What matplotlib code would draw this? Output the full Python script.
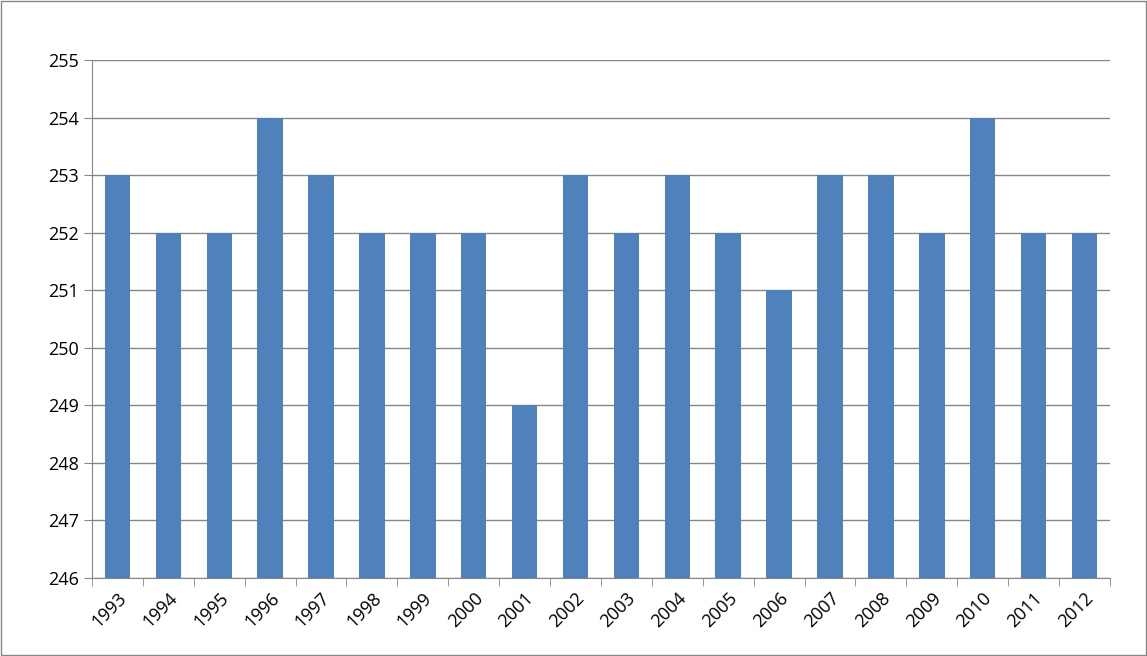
import matplotlib.pyplot as plt
import numpy as np

years = [str(y) for y in range(1993, 2013)]
values = [253, 252, 252, 254, 253, 252, 252, 252, 249, 253,
          252, 253, 252, 251, 253, 253, 252, 254, 252, 252]

plt.rcParams['font.family'] = ['Open Sans', 'DejaVu Sans']

fig = plt.figure(figsize=(11.47, 6.56), dpi=100)
ax = fig.add_axes([0.0802, 0.1189, 0.8875, 0.7896])
x = np.arange(len(years))
ax.bar(x, [v - 246 for v in values], bottom=246, width=0.5, color='#4F81BD', zorder=3)
ax.set_xlim(-0.5, len(years) - 0.5)
ax.set_ylim(246, 255)
ax.set_yticks(range(246, 256))
ax.grid(axis='y', color='#868686', linewidth=1, zorder=0)
ax.set_xticks(x)
ax.set_xticklabels(years, rotation=45, ha='right', rotation_mode='anchor', fontsize=13)
ax.set_xticks(np.arange(-0.5, len(years)), minor=True)
ax.tick_params(axis='x', which='major', length=0, pad=8)
ax.tick_params(axis='x', which='minor', length=6, color='#868686')
ax.tick_params(axis='y', labelsize=13, length=6, color='#868686')
for s in ['top', 'right']:
    ax.spines[s].set_visible(False)
for s in ['left', 'bottom']:
    ax.spines[s].set_color('#868686')

border = plt.Rectangle((0.001, 0.001), 0.998, 0.998, transform=fig.transFigure,
                       fill=False, edgecolor='#868686', linewidth=1)
fig.patches.append(border)

fig.savefig('out.png', dpi=100)
